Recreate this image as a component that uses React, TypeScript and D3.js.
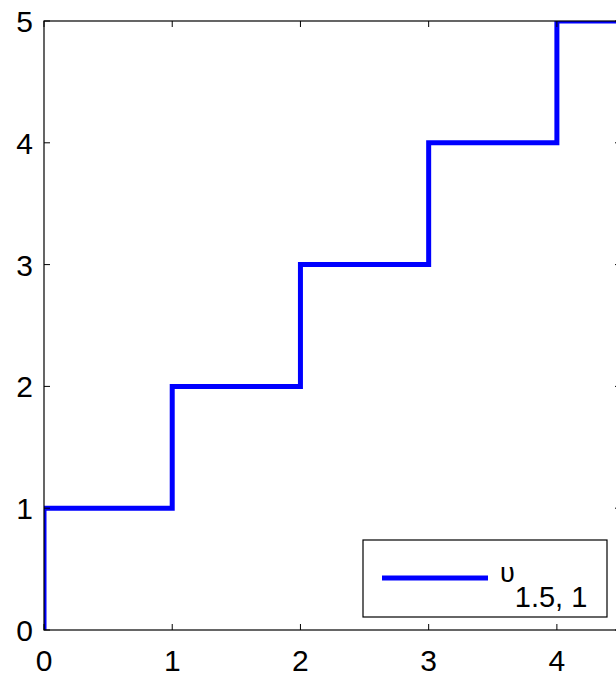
import React from 'react';
import * as d3 from 'd3';

const width = 616;
const height = 676;

// step function values
const stepX = [0, 0, 1, 2, 3, 4, 4.5];
const stepY = [0, 1, 2, 3, 4, 5, 5];
const xTicks = [0, 1, 2, 3, 4];
const yTicks = [0, 1, 2, 3, 4, 5];
const legendName = 'υ';
const legendSub = '1.5, 1';

const x = d3.scaleLinear().domain([0, 4.5]).range([44, 621]);
const y = d3.scaleLinear().domain([0, 5]).range([630, 21]);

const line = d3
  .line<number>()
  .x(i => x(stepX[i]))
  .y(i => y(stepY[i]))
  .curve(d3.curveStepAfter);

const font = 'Arial, "Liberation Sans", sans-serif';
const tickLen = 6;

const App = () => {
  const [x0, x1] = x.range();
  const [y0, y1] = y.range();
  return (
    <div style={{ position: 'absolute', left: 0, top: 0 }}>
      <svg width={width} height={height} style={{ display: 'block', background: '#fff' }}>
        <defs>
          <clipPath id="plot">
            <rect x={x0} y={y1} width={x1 - x0} height={y0 - y1} />
          </clipPath>
        </defs>
        <rect x={0} y={0} width={width} height={height} fill="#fff" />
        <path
          d={line(stepX.map((_, i) => i)) || ''}
          fill="none"
          stroke="#0000ff"
          strokeWidth={5}
          clipPath="url(#plot)"
        />
        {/* axes box */}
        <rect x={x0} y={y1} width={x1 - x0} height={y0 - y1} fill="none" stroke="#000" strokeWidth={1.2} />
        {xTicks.map(t => (
          <g key={'x' + t}>
            <line x1={x(t)} x2={x(t)} y1={y0} y2={y0 - tickLen} stroke="#000" />
            <line x1={x(t)} x2={x(t)} y1={y1} y2={y1 + tickLen} stroke="#000" />
            <text x={x(t)} y={671} textAnchor="middle" fontFamily={font} fontSize={30}>
              {t}
            </text>
          </g>
        ))}
        {yTicks.map(t => (
          <g key={'y' + t}>
            <line x1={x0} x2={x0 + tickLen} y1={y(t)} y2={y(t)} stroke="#000" />
            <line x1={x1} x2={x1 - tickLen} y1={y(t)} y2={y(t)} stroke="#000" />
            <text x={33} y={y(t) + 11} textAnchor="end" fontFamily={font} fontSize={30}>
              {t}
            </text>
          </g>
        ))}
        {/* legend */}
        <rect x={363} y={540} width={244} height={77} fill="#fff" stroke="#000" strokeWidth={1.2} />
        <line x1={382} x2={488} y1={578} y2={578} stroke="#0000ff" strokeWidth={5} />
        <text x={500} y={582} fontFamily={font} fontSize={27}>
          {legendName}
          <tspan dy={25} fontSize={29}>
            {legendSub}
          </tspan>
        </text>
      </svg>
    </div>
  );
};

export default App;
